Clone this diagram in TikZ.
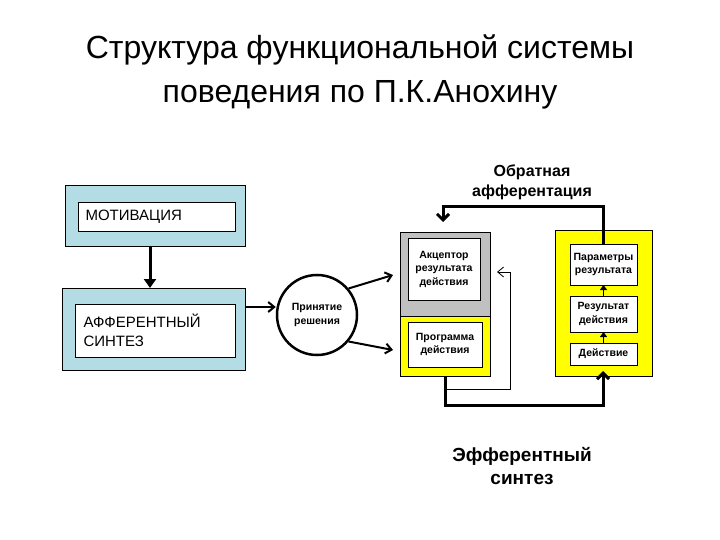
\documentclass[tikz,border=0pt]{standalone}
\usepackage{fontspec}
\setmainfont{Liberation Sans}
\usetikzlibrary{arrows.meta}
\begin{document}
\begin{tikzpicture}[x=1pt,y=-1pt,
  outer/.style={draw=black,line width=1pt},
  inner/.style={draw=black,fill=white,line width=0.8pt},
  thick arr/.style={line width=3pt,-{Triangle[length=9pt,width=12pt]}},
  mid arr/.style={line width=2pt,-{Straight Barb[length=6pt,width=10pt]}},
  small/.style={font=\bfseries\fontsize{10.5}{13.5}\selectfont,align=center}]
\useasboundingbox (0,0) rectangle (720,540);
\definecolor{lb}{RGB}{180,220,228}
\definecolor{yl}{RGB}{255,255,0}
\definecolor{gr}{RGB}{192,192,192}
\node[font=\fontsize{32}{44}\selectfont,align=center] (title) at (360,72) {Структура функциональной системы\\поведения по П.К.Анохину};
% left boxes
\filldraw[outer,fill=lb] (65,186) rectangle (245,246);
\node[inner,minimum width=157pt,minimum height=29pt,anchor=north west,inner sep=0pt] (mot) at (78,202) {};
\node[anchor=west,font=\fontsize{15}{17}\selectfont] (mott) at (82,216.5) {МОТИВАЦИЯ};
\coordinate (motb) at (150,246);
\filldraw[outer,fill=lb] (62,288) rectangle (245,370);
\node[inner,minimum width=160pt,minimum height=53pt,anchor=north west,inner sep=0pt] (aff) at (75,304) {};
\node[anchor=west,align=left,font=\fontsize{15}{19}\selectfont] (afft) at (80,330) {АФФЕРЕНТНЫЙ\\СИНТЕЗ};
\coordinate (afft2) at (150,288);
\draw[thick arr] (motb) -- (afft2);
% decision
\node[draw,circle,line width=2.5pt,minimum size=80pt,small] (dec) at (317,315) {Принятие\\решения};
\coordinate (affr) at (245,307);
\draw[mid arr] (affr) -- (dec.west|-affr);
% left column
\fill[gr] (400,232) rectangle (490,316);
\fill[yl] (400,316) rectangle (490,376);
\draw[line width=0.8pt] (400,232) rectangle (490,376) (400,316) -- (490,316);
\node[inner,minimum width=72pt,minimum height=62pt,small,anchor=north west,inner sep=0pt] (acc) at (408,238) {};
\node[small] (acct) at (444,269) {Акцептор\\результата\\действия};
\node[inner,minimum width=74pt,minimum height=45pt,anchor=north west,inner sep=0pt] (prog) at (408,322) {};
\node[small] (progt) at (445,344.5) {Программа\\действия};
\coordinate (a1) at (393,275);
\coordinate (a2) at (393,350);
\draw[mid arr] (dec.40) -- (a1);
\draw[mid arr] (dec.-40) -- (a2);
% right column
\filldraw[draw=black,fill=yl,line width=0.8pt] (555,230) rectangle (652,376);
\node[inner,minimum width=67pt,minimum height=41pt,anchor=north west,inner sep=0pt] (par) at (570,244) {};
\node[small] (part) at (603.5,264.5) {Параметры\\результата};
\node[inner,minimum width=67pt,minimum height=36pt,anchor=north west,inner sep=0pt] (res) at (570,296) {};
\node[small] (rest) at (603.5,314) {Результат\\действия};
\node[inner,minimum width=67pt,minimum height=22pt,anchor=north west,inner sep=0pt] (act) at (570,343) {};
\node[small] (actt) at (603.5,354) {Действие};
\draw[line width=1.5pt,-{Triangle[length=5pt,width=7pt]}] (603.5,343) -- (603.5,332);
\draw[line width=1.5pt,-{Triangle[length=5pt,width=7pt]}] (603.5,296) -- (603.5,285);
% feedback
\coordinate (fb) at (443,222);
\draw[line width=3pt,-{Straight Barb[length=6pt,width=12pt]}] (603,244) -- (603,207) -- (443,207) -- (fb);
\node[font=\bfseries\fontsize{16}{20}\selectfont,align=center] (fbl) at (532,182) {Обратная\\афферентация};
% loops
\coordinate (th) at (497,272);
\draw[line width=0.8pt,-{Straight Barb[length=6pt,width=10pt,open]}] (445,376) -- (445,389) -- (510,389) -- (510,272) -- (th);
\coordinate (ar) at (603,371);
\draw[line width=3pt,-{Straight Barb[length=6pt,width=12pt]}] (445,376) -- (445,405) -- (603,405) -- (ar);
\node[font=\bfseries\fontsize{19}{23}\selectfont,align=center] (eff) at (522,466) {Эфферентный\\синтез};
\end{tikzpicture}
\end{document}
